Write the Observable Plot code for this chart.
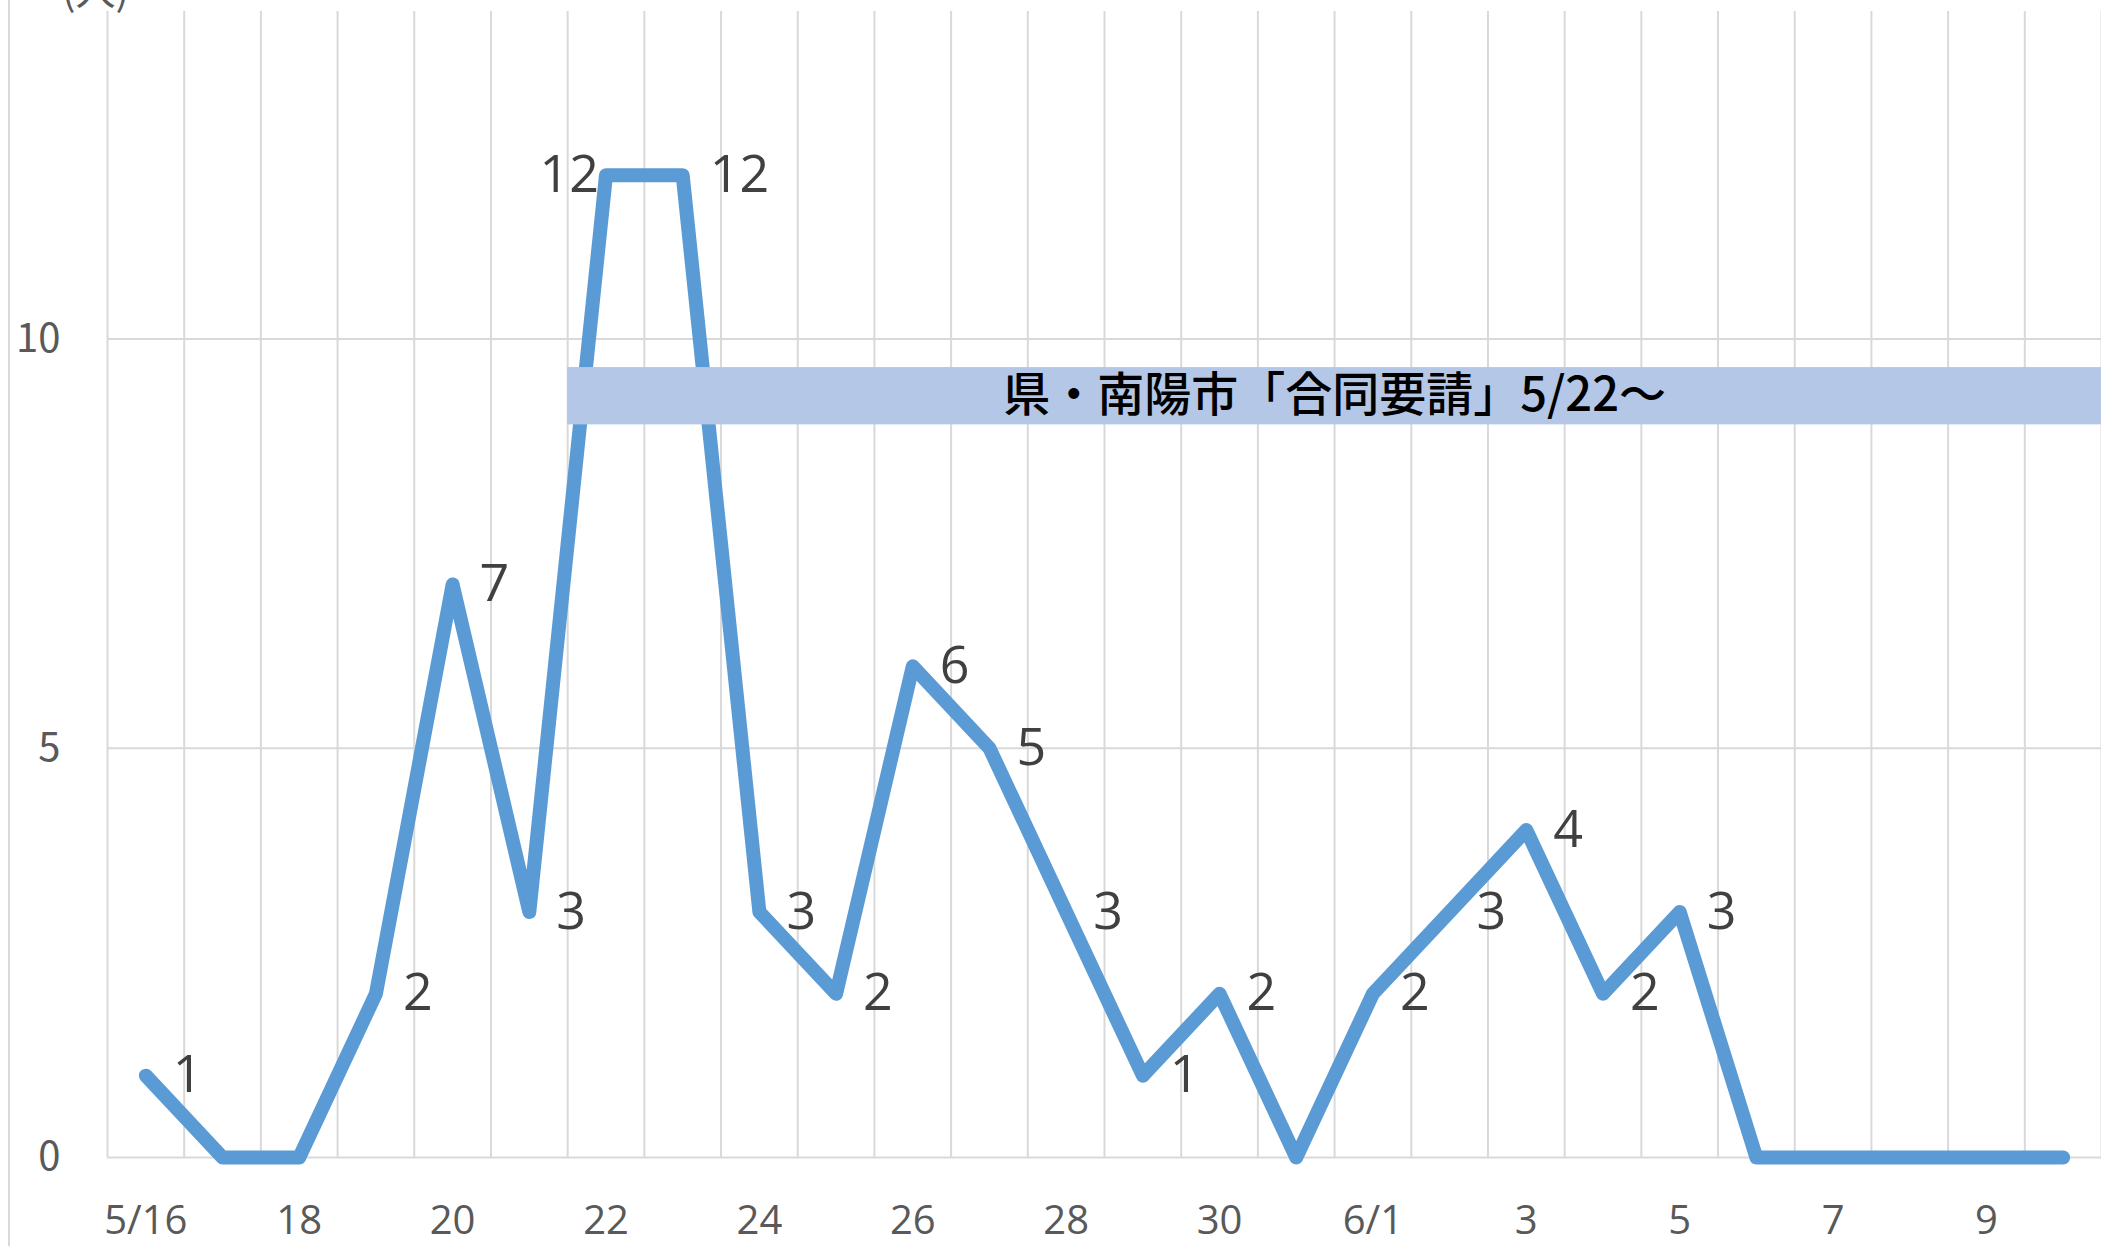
<!DOCTYPE html>
<html>
<head>
<meta charset="utf-8">
<script src="https://cdn.jsdelivr.net/npm/d3@7"></script>
<script src="https://cdn.jsdelivr.net/npm/@observablehq/plot@0.6"></script>
<style>
  html, body { margin: 0; padding: 0; background: #fff; overflow: hidden; }
  #wrap { position: relative; width: 2101px; height: 1246px; }
  #border { position: absolute; left: 8px; top: 0; width: 2px; height: 1246px; background: #d9d9d9; }
  #chart { position: absolute; left: 0; top: 0; }
</style>
</head>
<body>
<div id="wrap"><div id="border"></div><div id="chart"></div></div>
<script>
const dates = ["5/16","5/17","5/18","5/19","5/20","5/21","5/22","5/23","5/24","5/25","5/26","5/27","5/28","5/29","5/30","5/31",
               "6/1","6/2","6/3","6/4","6/5","6/6","6/7","6/8","6/9","6/10"];
const counts = [1,0,0,2,7,3,12,12,3,2,6,5,3,1,2,0,2,3,4,2,3,0,0,0,0,0];
const tickLabels = ["5/16","18","20","22","24","26","28","30","6/1","3","5","7","9"];
const yTicks = [0, 5, 10];
const yUnit = "(人)";
const noteText = "県・南陽市「合同要請」5/22～";
const noteStart = "5/22";
const noteLow = 8.95;
const noteHigh = 9.65;
const leftLabelDates = ["5/22"];

const data = dates.map((d, i) => ({date: d, i, v: counts[i]}));
const labeled = data.filter(d => d.v > 0);
const n = dates.length;
const gridX = d3.range(n + 1).map(k => k - 0.5);
const x1 = dates.indexOf(noteStart) - 0.5;
const x2 = n - 0.5;

const labelFont = "'Open Sans', 'Noto Sans', sans-serif";
const cjkFont = "'Noto Sans CJK JP', sans-serif";

const chart = Plot.plot({
  width: 2101,
  height: 1246,
  marginLeft: 107,
  marginRight: 0,
  marginTop: 11,
  marginBottom: 89,
  style: {background: "transparent", overflow: "hidden"},
  x: {type: "linear", domain: [-0.5, n - 0.5], axis: null},
  y: {domain: [0, 14], axis: null},
  marks: [
    Plot.ruleX(gridX, {stroke: "#d9d9d9", strokeWidth: 2}),
    Plot.ruleY(yTicks, {stroke: "#d9d9d9", strokeWidth: 2}),
    Plot.line(data, {x: "i", y: "v", stroke: "#5B9BD5", strokeWidth: 14, strokeLinejoin: "round", strokeLinecap: "round"}),
    Plot.rect([{}], {x1: () => x1, x2: () => x2, y1: () => noteLow, y2: () => noteHigh, fill: "#B4C7E7"}),
    Plot.text([noteText], {x: () => (x1 + x2) / 2, y: () => (noteLow + noteHigh) / 2, text: d => d,
      fontSize: 47, fontWeight: 500, fill: "#000", fontFamily: cjkFont}),
    Plot.text(labeled.filter(d => !leftLabelDates.includes(d.date)), {x: "i", y: "v", text: d => String(d.v),
      textAnchor: "start", dx: 27, fontSize: 52, fill: "#404040", fontFamily: labelFont}),
    Plot.text(labeled.filter(d => leftLabelDates.includes(d.date)), {x: "i", y: "v", text: d => String(d.v),
      textAnchor: "end", dx: -7, fontSize: 52, fill: "#404040", fontFamily: labelFont}),
    Plot.axisX(tickLabels.map((_, k) => k * 2), {tickFormat: d => tickLabels[d / 2], tickSize: 0, tickPadding: 48,
      fontSize: 40, fill: "#595959", fontFamily: labelFont, label: null}),
    Plot.axisY(yTicks, {tickFormat: d => String(d), tickSize: 0, tickPadding: 47, fontSize: 40, fill: "#595959",
      fontFamily: cjkFont, label: null}),
    Plot.text([yUnit], {frameAnchor: "top-left", dx: -12, dy: -7, textAnchor: "middle", lineAnchor: "bottom", text: d => d,
      fontSize: 40, fill: "#595959", fontFamily: cjkFont})
  ]
});
document.getElementById("chart").appendChild(chart);
</script>
</body>
</html>
